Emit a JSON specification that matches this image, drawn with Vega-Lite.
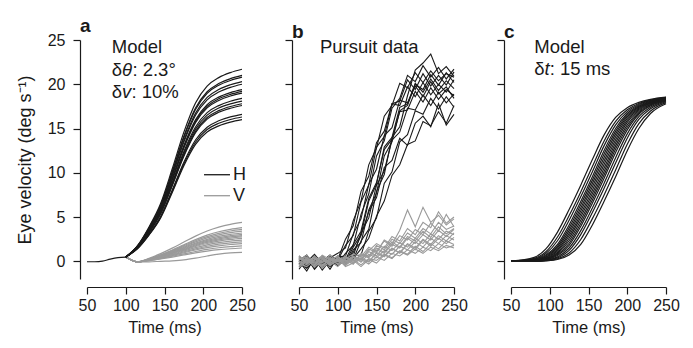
{
"$schema":"https://vega.github.io/schema/vega-lite/v6.json",
"background":"white",
"padding":{"left":16,"top":17,"right":5,"bottom":5},
"bounds":"flush",
"spacing":57,
"config":{
 "view":{"stroke":null},
 "font":"Liberation Sans",
 "axis":{"grid":false,"domainColor":"#1a1a1a","tickColor":"#1a1a1a","labelColor":"#1a1a1a","titleColor":"#1a1a1a","labelFont":"Liberation Sans","titleFont":"Liberation Sans","labelFontSize":16,"titleFontSize":16.5,"titleFontWeight":"normal","tickSize":7,"domainWidth":1.2,"tickWidth":1.2,"labelFlush":false,"labelOverlap":false},
 "axisX":{"labelPadding":3,"titlePadding":6,"offset":8},
 "axisY":{"labelPadding":8,"titlePadding":13,"offset":7},
 "title":{"fontSize":19,"fontWeight":"bold","anchor":"start","frame":"group","dx":-7,"dy":8,"offset":0,"baseline":"alphabetic","color":"#1a1a1a","font":"Liberation Sans"}
},
"datasets":{
"a":[
{"k":"H","s":0,"t":50,"v":-0.05},{"k":"H","s":0,"t":60,"v":-0.05},{"k":"H","s":0,"t":70,"v":0.02},{"k":"H","s":0,"t":80,"v":0.25},{"k":"H","s":0,"t":90,"v":0.42},{"k":"H","s":0,"t":100,"v":0.48},
{"k":"H","s":1,"t":100,"v":0.48},{"k":"H","s":1,"t":115,"v":1.75},{"k":"H","s":1,"t":130,"v":3.88},{"k":"H","s":1,"t":145,"v":6.53},{"k":"H","s":1,"t":160,"v":10.45},{"k":"H","s":1,"t":175,"v":14.59},{"k":"H","s":1,"t":190,"v":17.88},{"k":"H","s":1,"t":205,"v":19.79},{"k":"H","s":1,"t":220,"v":20.75},{"k":"H","s":1,"t":235,"v":21.32},{"k":"H","s":1,"t":250,"v":21.7},
{"k":"H","s":2,"t":100,"v":0.48},{"k":"H","s":2,"t":115,"v":1.71},{"k":"H","s":2,"t":130,"v":3.76},{"k":"H","s":2,"t":145,"v":6.33},{"k":"H","s":2,"t":160,"v":10.12},{"k":"H","s":2,"t":175,"v":14.13},{"k":"H","s":2,"t":190,"v":17.31},{"k":"H","s":2,"t":205,"v":19.15},{"k":"H","s":2,"t":220,"v":20.08},{"k":"H","s":2,"t":235,"v":20.63},{"k":"H","s":2,"t":250,"v":21.0},
{"k":"H","s":3,"t":100,"v":0.48},{"k":"H","s":3,"t":115,"v":1.70},{"k":"H","s":3,"t":130,"v":3.73},{"k":"H","s":3,"t":145,"v":6.27},{"k":"H","s":3,"t":160,"v":10.03},{"k":"H","s":3,"t":175,"v":13.99},{"k":"H","s":3,"t":190,"v":17.14},{"k":"H","s":3,"t":205,"v":18.97},{"k":"H","s":3,"t":220,"v":19.89},{"k":"H","s":3,"t":235,"v":20.43},{"k":"H","s":3,"t":250,"v":20.8},
{"k":"H","s":4,"t":100,"v":0.48},{"k":"H","s":4,"t":115,"v":1.67},{"k":"H","s":4,"t":130,"v":3.65},{"k":"H","s":4,"t":145,"v":6.13},{"k":"H","s":4,"t":160,"v":9.80},{"k":"H","s":4,"t":175,"v":13.66},{"k":"H","s":4,"t":190,"v":16.73},{"k":"H","s":4,"t":205,"v":18.52},{"k":"H","s":4,"t":220,"v":19.41},{"k":"H","s":4,"t":235,"v":19.94},{"k":"H","s":4,"t":250,"v":20.3},
{"k":"H","s":5,"t":100,"v":0.48},{"k":"H","s":5,"t":115,"v":1.65},{"k":"H","s":5,"t":130,"v":3.60},{"k":"H","s":5,"t":145,"v":6.04},{"k":"H","s":5,"t":160,"v":9.65},{"k":"H","s":5,"t":175,"v":13.46},{"k":"H","s":5,"t":190,"v":16.49},{"k":"H","s":5,"t":205,"v":18.24},{"k":"H","s":5,"t":220,"v":19.12},{"k":"H","s":5,"t":235,"v":19.65},{"k":"H","s":5,"t":250,"v":20.0},
{"k":"H","s":6,"t":100,"v":0.48},{"k":"H","s":6,"t":115,"v":1.62},{"k":"H","s":6,"t":130,"v":3.51},{"k":"H","s":6,"t":145,"v":5.87},{"k":"H","s":6,"t":160,"v":9.37},{"k":"H","s":6,"t":175,"v":13.06},{"k":"H","s":6,"t":190,"v":15.99},{"k":"H","s":6,"t":205,"v":17.70},{"k":"H","s":6,"t":220,"v":18.55},{"k":"H","s":6,"t":235,"v":19.06},{"k":"H","s":6,"t":250,"v":19.4},
{"k":"H","s":7,"t":100,"v":0.48},{"k":"H","s":7,"t":115,"v":1.60},{"k":"H","s":7,"t":130,"v":3.48},{"k":"H","s":7,"t":145,"v":5.82},{"k":"H","s":7,"t":160,"v":9.28},{"k":"H","s":7,"t":175,"v":12.93},{"k":"H","s":7,"t":190,"v":15.83},{"k":"H","s":7,"t":205,"v":17.52},{"k":"H","s":7,"t":220,"v":18.36},{"k":"H","s":7,"t":235,"v":18.86},{"k":"H","s":7,"t":250,"v":19.2},
{"k":"H","s":8,"t":100,"v":0.48},{"k":"H","s":8,"t":115,"v":1.59},{"k":"H","s":8,"t":130,"v":3.44},{"k":"H","s":8,"t":145,"v":5.76},{"k":"H","s":8,"t":160,"v":9.18},{"k":"H","s":8,"t":175,"v":12.80},{"k":"H","s":8,"t":190,"v":15.67},{"k":"H","s":8,"t":205,"v":17.33},{"k":"H","s":8,"t":220,"v":18.17},{"k":"H","s":8,"t":235,"v":18.67},{"k":"H","s":8,"t":250,"v":19.0},
{"k":"H","s":9,"t":100,"v":0.48},{"k":"H","s":9,"t":115,"v":1.56},{"k":"H","s":9,"t":130,"v":3.35},{"k":"H","s":9,"t":145,"v":5.59},{"k":"H","s":9,"t":160,"v":8.90},{"k":"H","s":9,"t":175,"v":12.40},{"k":"H","s":9,"t":190,"v":15.17},{"k":"H","s":9,"t":205,"v":16.79},{"k":"H","s":9,"t":220,"v":17.59},{"k":"H","s":9,"t":235,"v":18.08},{"k":"H","s":9,"t":250,"v":18.4},
{"k":"H","s":10,"t":100,"v":0.48},{"k":"H","s":10,"t":115,"v":1.54},{"k":"H","s":10,"t":130,"v":3.30},{"k":"H","s":10,"t":145,"v":5.50},{"k":"H","s":10,"t":160,"v":8.76},{"k":"H","s":10,"t":175,"v":12.20},{"k":"H","s":10,"t":190,"v":14.93},{"k":"H","s":10,"t":205,"v":16.51},{"k":"H","s":10,"t":220,"v":17.31},{"k":"H","s":10,"t":235,"v":17.78},{"k":"H","s":10,"t":250,"v":18.1},
{"k":"H","s":11,"t":100,"v":0.48},{"k":"H","s":11,"t":115,"v":1.52},{"k":"H","s":11,"t":130,"v":3.25},{"k":"H","s":11,"t":145,"v":5.42},{"k":"H","s":11,"t":160,"v":8.62},{"k":"H","s":11,"t":175,"v":12.00},{"k":"H","s":11,"t":190,"v":14.68},{"k":"H","s":11,"t":205,"v":16.24},{"k":"H","s":11,"t":220,"v":17.02},{"k":"H","s":11,"t":235,"v":17.49},{"k":"H","s":11,"t":250,"v":17.8},
{"k":"H","s":12,"t":100,"v":0.48},{"k":"H","s":12,"t":115,"v":1.51},{"k":"H","s":12,"t":130,"v":3.22},{"k":"H","s":12,"t":145,"v":5.36},{"k":"H","s":12,"t":160,"v":8.53},{"k":"H","s":12,"t":175,"v":11.86},{"k":"H","s":12,"t":190,"v":14.52},{"k":"H","s":12,"t":205,"v":16.06},{"k":"H","s":12,"t":220,"v":16.83},{"k":"H","s":12,"t":235,"v":17.29},{"k":"H","s":12,"t":250,"v":17.6},
{"k":"H","s":13,"t":100,"v":0.48},{"k":"H","s":13,"t":115,"v":1.45},{"k":"H","s":13,"t":130,"v":3.06},{"k":"H","s":13,"t":145,"v":5.07},{"k":"H","s":13,"t":160,"v":8.06},{"k":"H","s":13,"t":175,"v":11.20},{"k":"H","s":13,"t":190,"v":13.70},{"k":"H","s":13,"t":205,"v":15.15},{"k":"H","s":13,"t":220,"v":15.87},{"k":"H","s":13,"t":235,"v":16.31},{"k":"H","s":13,"t":250,"v":16.6},
{"k":"H","s":14,"t":100,"v":0.48},{"k":"H","s":14,"t":115,"v":1.43},{"k":"H","s":14,"t":130,"v":3.01},{"k":"H","s":14,"t":145,"v":4.99},{"k":"H","s":14,"t":160,"v":7.92},{"k":"H","s":14,"t":175,"v":11.00},{"k":"H","s":14,"t":190,"v":13.45},{"k":"H","s":14,"t":205,"v":14.88},{"k":"H","s":14,"t":220,"v":15.59},{"k":"H","s":14,"t":235,"v":16.02},{"k":"H","s":14,"t":250,"v":16.3},
{"k":"H","s":15,"t":100,"v":0.48},{"k":"H","s":15,"t":115,"v":1.41},{"k":"H","s":15,"t":130,"v":2.96},{"k":"H","s":15,"t":145,"v":4.90},{"k":"H","s":15,"t":160,"v":7.77},{"k":"H","s":15,"t":175,"v":10.80},{"k":"H","s":15,"t":190,"v":13.21},{"k":"H","s":15,"t":205,"v":14.60},{"k":"H","s":15,"t":220,"v":15.30},{"k":"H","s":15,"t":235,"v":15.72},{"k":"H","s":15,"t":250,"v":16.0},
{"k":"V","s":1,"t":100,"v":0.48},{"k":"V","s":1,"t":108,"v":0.12},{"k":"V","s":1,"t":115,"v":-0.07},{"k":"V","s":1,"t":130,"v":0.33},{"k":"V","s":1,"t":145,"v":0.87},{"k":"V","s":1,"t":160,"v":1.49},{"k":"V","s":1,"t":175,"v":2.17},{"k":"V","s":1,"t":190,"v":2.84},{"k":"V","s":1,"t":205,"v":3.42},{"k":"V","s":1,"t":220,"v":3.86},{"k":"V","s":1,"t":235,"v":4.18},{"k":"V","s":1,"t":250,"v":4.4},
{"k":"V","s":2,"t":100,"v":0.48},{"k":"V","s":2,"t":108,"v":0.12},{"k":"V","s":2,"t":115,"v":-0.07},{"k":"V","s":2,"t":130,"v":0.28},{"k":"V","s":2,"t":145,"v":0.74},{"k":"V","s":2,"t":160,"v":1.28},{"k":"V","s":2,"t":175,"v":1.87},{"k":"V","s":2,"t":190,"v":2.45},{"k":"V","s":2,"t":205,"v":2.95},{"k":"V","s":2,"t":220,"v":3.34},{"k":"V","s":2,"t":235,"v":3.61},{"k":"V","s":2,"t":250,"v":3.8},
{"k":"V","s":3,"t":100,"v":0.48},{"k":"V","s":3,"t":108,"v":0.12},{"k":"V","s":3,"t":115,"v":-0.07},{"k":"V","s":3,"t":130,"v":0.26},{"k":"V","s":3,"t":145,"v":0.70},{"k":"V","s":3,"t":160,"v":1.21},{"k":"V","s":3,"t":175,"v":1.77},{"k":"V","s":3,"t":190,"v":2.32},{"k":"V","s":3,"t":205,"v":2.79},{"k":"V","s":3,"t":220,"v":3.16},{"k":"V","s":3,"t":235,"v":3.42},{"k":"V","s":3,"t":250,"v":3.6},
{"k":"V","s":4,"t":100,"v":0.48},{"k":"V","s":4,"t":108,"v":0.12},{"k":"V","s":4,"t":115,"v":-0.07},{"k":"V","s":4,"t":130,"v":0.24},{"k":"V","s":4,"t":145,"v":0.66},{"k":"V","s":4,"t":160,"v":1.14},{"k":"V","s":4,"t":175,"v":1.67},{"k":"V","s":4,"t":190,"v":2.19},{"k":"V","s":4,"t":205,"v":2.64},{"k":"V","s":4,"t":220,"v":2.98},{"k":"V","s":4,"t":235,"v":3.23},{"k":"V","s":4,"t":250,"v":3.4},
{"k":"V","s":5,"t":100,"v":0.48},{"k":"V","s":5,"t":108,"v":0.12},{"k":"V","s":5,"t":115,"v":-0.07},{"k":"V","s":5,"t":130,"v":0.22},{"k":"V","s":5,"t":145,"v":0.62},{"k":"V","s":5,"t":160,"v":1.07},{"k":"V","s":5,"t":175,"v":1.57},{"k":"V","s":5,"t":190,"v":2.06},{"k":"V","s":5,"t":205,"v":2.48},{"k":"V","s":5,"t":220,"v":2.81},{"k":"V","s":5,"t":235,"v":3.04},{"k":"V","s":5,"t":250,"v":3.2},
{"k":"V","s":6,"t":100,"v":0.48},{"k":"V","s":6,"t":108,"v":0.12},{"k":"V","s":6,"t":115,"v":-0.07},{"k":"V","s":6,"t":130,"v":0.21},{"k":"V","s":6,"t":145,"v":0.59},{"k":"V","s":6,"t":160,"v":1.02},{"k":"V","s":6,"t":175,"v":1.49},{"k":"V","s":6,"t":190,"v":1.96},{"k":"V","s":6,"t":205,"v":2.36},{"k":"V","s":6,"t":220,"v":2.68},{"k":"V","s":6,"t":235,"v":2.89},{"k":"V","s":6,"t":250,"v":3.05},
{"k":"V","s":7,"t":100,"v":0.48},{"k":"V","s":7,"t":108,"v":0.12},{"k":"V","s":7,"t":115,"v":-0.07},{"k":"V","s":7,"t":130,"v":0.20},{"k":"V","s":7,"t":145,"v":0.55},{"k":"V","s":7,"t":160,"v":0.97},{"k":"V","s":7,"t":175,"v":1.42},{"k":"V","s":7,"t":190,"v":1.86},{"k":"V","s":7,"t":205,"v":2.25},{"k":"V","s":7,"t":220,"v":2.54},{"k":"V","s":7,"t":235,"v":2.75},{"k":"V","s":7,"t":250,"v":2.9},
{"k":"V","s":8,"t":100,"v":0.48},{"k":"V","s":8,"t":108,"v":0.12},{"k":"V","s":8,"t":115,"v":-0.07},{"k":"V","s":8,"t":130,"v":0.18},{"k":"V","s":8,"t":145,"v":0.52},{"k":"V","s":8,"t":160,"v":0.92},{"k":"V","s":8,"t":175,"v":1.34},{"k":"V","s":8,"t":190,"v":1.76},{"k":"V","s":8,"t":205,"v":2.13},{"k":"V","s":8,"t":220,"v":2.41},{"k":"V","s":8,"t":235,"v":2.61},{"k":"V","s":8,"t":250,"v":2.75},
{"k":"V","s":9,"t":100,"v":0.48},{"k":"V","s":9,"t":108,"v":0.12},{"k":"V","s":9,"t":115,"v":-0.07},{"k":"V","s":9,"t":130,"v":0.17},{"k":"V","s":9,"t":145,"v":0.49},{"k":"V","s":9,"t":160,"v":0.86},{"k":"V","s":9,"t":175,"v":1.27},{"k":"V","s":9,"t":190,"v":1.67},{"k":"V","s":9,"t":205,"v":2.01},{"k":"V","s":9,"t":220,"v":2.28},{"k":"V","s":9,"t":235,"v":2.47},{"k":"V","s":9,"t":250,"v":2.6},
{"k":"V","s":10,"t":100,"v":0.48},{"k":"V","s":10,"t":108,"v":0.12},{"k":"V","s":10,"t":115,"v":-0.07},{"k":"V","s":10,"t":130,"v":0.15},{"k":"V","s":10,"t":145,"v":0.45},{"k":"V","s":10,"t":160,"v":0.79},{"k":"V","s":10,"t":175,"v":1.17},{"k":"V","s":10,"t":190,"v":1.54},{"k":"V","s":10,"t":205,"v":1.86},{"k":"V","s":10,"t":220,"v":2.10},{"k":"V","s":10,"t":235,"v":2.28},{"k":"V","s":10,"t":250,"v":2.4},
{"k":"V","s":11,"t":100,"v":0.48},{"k":"V","s":11,"t":108,"v":0.12},{"k":"V","s":11,"t":115,"v":-0.07},{"k":"V","s":11,"t":130,"v":0.13},{"k":"V","s":11,"t":145,"v":0.41},{"k":"V","s":11,"t":160,"v":0.72},{"k":"V","s":11,"t":175,"v":1.07},{"k":"V","s":11,"t":190,"v":1.41},{"k":"V","s":11,"t":205,"v":1.70},{"k":"V","s":11,"t":220,"v":1.93},{"k":"V","s":11,"t":235,"v":2.09},{"k":"V","s":11,"t":250,"v":2.2},
{"k":"V","s":12,"t":100,"v":0.48},{"k":"V","s":12,"t":108,"v":0.12},{"k":"V","s":12,"t":115,"v":-0.07},{"k":"V","s":12,"t":130,"v":0.12},{"k":"V","s":12,"t":145,"v":0.36},{"k":"V","s":12,"t":160,"v":0.65},{"k":"V","s":12,"t":175,"v":0.97},{"k":"V","s":12,"t":190,"v":1.28},{"k":"V","s":12,"t":205,"v":1.54},{"k":"V","s":12,"t":220,"v":1.75},{"k":"V","s":12,"t":235,"v":1.90},{"k":"V","s":12,"t":250,"v":2.0},
{"k":"V","s":13,"t":100,"v":0.48},{"k":"V","s":13,"t":108,"v":0.12},{"k":"V","s":13,"t":115,"v":-0.07},{"k":"V","s":13,"t":130,"v":0.09},{"k":"V","s":13,"t":145,"v":0.31},{"k":"V","s":13,"t":160,"v":0.57},{"k":"V","s":13,"t":175,"v":0.84},{"k":"V","s":13,"t":190,"v":1.11},{"k":"V","s":13,"t":205,"v":1.35},{"k":"V","s":13,"t":220,"v":1.53},{"k":"V","s":13,"t":235,"v":1.66},{"k":"V","s":13,"t":250,"v":1.75},
{"k":"V","s":14,"t":100,"v":0.48},{"k":"V","s":14,"t":108,"v":0.12},{"k":"V","s":14,"t":115,"v":-0.07},{"k":"V","s":14,"t":130,"v":0.07},{"k":"V","s":14,"t":145,"v":0.26},{"k":"V","s":14,"t":160,"v":0.48},{"k":"V","s":14,"t":175,"v":0.72},{"k":"V","s":14,"t":190,"v":0.95},{"k":"V","s":14,"t":205,"v":1.15},{"k":"V","s":14,"t":220,"v":1.31},{"k":"V","s":14,"t":235,"v":1.42},{"k":"V","s":14,"t":250,"v":1.5},
{"k":"V","s":15,"t":100,"v":0.48},{"k":"V","s":15,"t":108,"v":0.12},{"k":"V","s":15,"t":115,"v":-0.07},{"k":"V","s":15,"t":130,"v":-0.06},{"k":"V","s":15,"t":145,"v":0.0},{"k":"V","s":15,"t":160,"v":0.05},{"k":"V","s":15,"t":175,"v":0.15},{"k":"V","s":15,"t":190,"v":0.35},{"k":"V","s":15,"t":205,"v":0.6},{"k":"V","s":15,"t":220,"v":0.82},{"k":"V","s":15,"t":235,"v":0.95},{"k":"V","s":15,"t":250,"v":1.0}
],
"b":[
{"k":"H","s":1,"t":50,"v":0.3},{"k":"H","s":1,"t":60,"v":-0.4},{"k":"H","s":1,"t":70,"v":0.5},{"k":"H","s":1,"t":80,"v":-0.2},{"k":"H","s":1,"t":90,"v":0.4},{"k":"H","s":1,"t":100,"v":0.9},{"k":"H","s":1,"t":110,"v":1.5},{"k":"H","s":1,"t":120,"v":4.6},{"k":"H","s":1,"t":130,"v":6.8},{"k":"H","s":1,"t":140,"v":10.9},{"k":"H","s":1,"t":150,"v":12.8},{"k":"H","s":1,"t":160,"v":16.4},{"k":"H","s":1,"t":170,"v":17.6},{"k":"H","s":1,"t":180,"v":20.1},{"k":"H","s":1,"t":190,"v":19.6},{"k":"H","s":1,"t":200,"v":21.3},{"k":"H","s":1,"t":210,"v":20.2},{"k":"H","s":1,"t":220,"v":21.5},{"k":"H","s":1,"t":230,"v":20.4},{"k":"H","s":1,"t":240,"v":21.2},{"k":"H","s":1,"t":250,"v":20.8},
{"k":"H","s":2,"t":50,"v":-0.6},{"k":"H","s":2,"t":60,"v":0.2},{"k":"H","s":2,"t":70,"v":-0.3},{"k":"H","s":2,"t":80,"v":0.6},{"k":"H","s":2,"t":90,"v":-0.4},{"k":"H","s":2,"t":100,"v":0.1},{"k":"H","s":2,"t":110,"v":1.8},{"k":"H","s":2,"t":120,"v":2.9},{"k":"H","s":2,"t":130,"v":6.7},{"k":"H","s":2,"t":140,"v":8.6},{"k":"H","s":2,"t":150,"v":12.9},{"k":"H","s":2,"t":160,"v":14.1},{"k":"H","s":2,"t":170,"v":17.8},{"k":"H","s":2,"t":180,"v":18.1},{"k":"H","s":2,"t":190,"v":20.5},{"k":"H","s":2,"t":200,"v":19.4},{"k":"H","s":2,"t":210,"v":21.2},{"k":"H","s":2,"t":220,"v":19.8},{"k":"H","s":2,"t":230,"v":21.0},{"k":"H","s":2,"t":240,"v":19.9},{"k":"H","s":2,"t":250,"v":21.4},
{"k":"H","s":3,"t":50,"v":0.1},{"k":"H","s":3,"t":60,"v":0.7},{"k":"H","s":3,"t":70,"v":-0.5},{"k":"H","s":3,"t":80,"v":0.3},{"k":"H","s":3,"t":90,"v":-0.9},{"k":"H","s":3,"t":100,"v":0.5},{"k":"H","s":3,"t":110,"v":0.6},{"k":"H","s":3,"t":120,"v":3.1},{"k":"H","s":3,"t":130,"v":4.8},{"k":"H","s":3,"t":140,"v":8.7},{"k":"H","s":3,"t":150,"v":10.4},{"k":"H","s":3,"t":160,"v":14.2},{"k":"H","s":3,"t":170,"v":15.1},{"k":"H","s":3,"t":180,"v":18.2},{"k":"H","s":3,"t":190,"v":17.9},{"k":"H","s":3,"t":200,"v":19.8},{"k":"H","s":3,"t":210,"v":18.6},{"k":"H","s":3,"t":220,"v":20.3},{"k":"H","s":3,"t":230,"v":18.9},{"k":"H","s":3,"t":240,"v":19.7},{"k":"H","s":3,"t":250,"v":18.4},
{"k":"H","s":4,"t":50,"v":-0.2},{"k":"H","s":4,"t":60,"v":-0.8},{"k":"H","s":4,"t":70,"v":0.1},{"k":"H","s":4,"t":80,"v":-0.6},{"k":"H","s":4,"t":90,"v":0.2},{"k":"H","s":4,"t":100,"v":-0.3},{"k":"H","s":4,"t":110,"v":0.9},{"k":"H","s":4,"t":120,"v":1.8},{"k":"H","s":4,"t":130,"v":5.3},{"k":"H","s":4,"t":140,"v":7.6},{"k":"H","s":4,"t":150,"v":11.9},{"k":"H","s":4,"t":160,"v":13.6},{"k":"H","s":4,"t":170,"v":17.3},{"k":"H","s":4,"t":180,"v":18.4},{"k":"H","s":4,"t":190,"v":21.0},{"k":"H","s":4,"t":200,"v":20.3},{"k":"H","s":4,"t":210,"v":22.1},{"k":"H","s":4,"t":220,"v":20.8},{"k":"H","s":4,"t":230,"v":21.9},{"k":"H","s":4,"t":240,"v":20.6},{"k":"H","s":4,"t":250,"v":21.7},
{"k":"H","s":5,"t":50,"v":0.5},{"k":"H","s":5,"t":60,"v":-0.1},{"k":"H","s":5,"t":70,"v":0.8},{"k":"H","s":5,"t":80,"v":-0.3},{"k":"H","s":5,"t":90,"v":0.3},{"k":"H","s":5,"t":100,"v":-0.5},{"k":"H","s":5,"t":110,"v":0.2},{"k":"H","s":5,"t":120,"v":1.9},{"k":"H","s":5,"t":130,"v":3.4},{"k":"H","s":5,"t":140,"v":7.1},{"k":"H","s":5,"t":150,"v":8.9},{"k":"H","s":5,"t":160,"v":12.6},{"k":"H","s":5,"t":170,"v":13.8},{"k":"H","s":5,"t":180,"v":16.9},{"k":"H","s":5,"t":190,"v":17.1},{"k":"H","s":5,"t":200,"v":19.2},{"k":"H","s":5,"t":210,"v":18.0},{"k":"H","s":5,"t":220,"v":19.6},{"k":"H","s":5,"t":230,"v":18.3},{"k":"H","s":5,"t":240,"v":19.4},{"k":"H","s":5,"t":250,"v":18.7},
{"k":"H","s":6,"t":50,"v":-0.9},{"k":"H","s":6,"t":60,"v":0.3},{"k":"H","s":6,"t":70,"v":-0.2},{"k":"H","s":6,"t":80,"v":0.5},{"k":"H","s":6,"t":90,"v":-0.6},{"k":"H","s":6,"t":100,"v":0.2},{"k":"H","s":6,"t":110,"v":-0.1},{"k":"H","s":6,"t":120,"v":1.6},{"k":"H","s":6,"t":130,"v":3.0},{"k":"H","s":6,"t":140,"v":6.8},{"k":"H","s":6,"t":150,"v":8.7},{"k":"H","s":6,"t":160,"v":12.9},{"k":"H","s":6,"t":170,"v":14.0},{"k":"H","s":6,"t":180,"v":17.4},{"k":"H","s":6,"t":190,"v":17.8},{"k":"H","s":6,"t":200,"v":20.1},{"k":"H","s":6,"t":210,"v":19.1},{"k":"H","s":6,"t":220,"v":20.6},{"k":"H","s":6,"t":230,"v":19.3},{"k":"H","s":6,"t":240,"v":20.4},{"k":"H","s":6,"t":250,"v":19.5},
{"k":"H","s":7,"t":50,"v":0.4},{"k":"H","s":7,"t":60,"v":-0.7},{"k":"H","s":7,"t":70,"v":0.6},{"k":"H","s":7,"t":80,"v":0.0},{"k":"H","s":7,"t":90,"v":0.7},{"k":"H","s":7,"t":100,"v":-0.2},{"k":"H","s":7,"t":110,"v":0.5},{"k":"H","s":7,"t":120,"v":0.6},{"k":"H","s":7,"t":130,"v":3.2},{"k":"H","s":7,"t":140,"v":4.9},{"k":"H","s":7,"t":150,"v":8.6},{"k":"H","s":7,"t":160,"v":10.2},{"k":"H","s":7,"t":170,"v":13.7},{"k":"H","s":7,"t":180,"v":14.6},{"k":"H","s":7,"t":190,"v":17.3},{"k":"H","s":7,"t":200,"v":17.1},{"k":"H","s":7,"t":210,"v":18.8},{"k":"H","s":7,"t":220,"v":17.6},{"k":"H","s":7,"t":230,"v":19.1},{"k":"H","s":7,"t":240,"v":17.9},{"k":"H","s":7,"t":250,"v":18.9},
{"k":"H","s":8,"t":50,"v":-0.3},{"k":"H","s":8,"t":60,"v":0.6},{"k":"H","s":8,"t":70,"v":-0.8},{"k":"H","s":8,"t":80,"v":0.2},{"k":"H","s":8,"t":90,"v":-0.1},{"k":"H","s":8,"t":100,"v":0.4},{"k":"H","s":8,"t":110,"v":-0.4},{"k":"H","s":8,"t":120,"v":1.3},{"k":"H","s":8,"t":130,"v":2.1},{"k":"H","s":8,"t":140,"v":5.8},{"k":"H","s":8,"t":150,"v":7.7},{"k":"H","s":8,"t":160,"v":11.9},{"k":"H","s":8,"t":170,"v":13.5},{"k":"H","s":8,"t":180,"v":17.0},{"k":"H","s":8,"t":190,"v":17.6},{"k":"H","s":8,"t":200,"v":20.0},{"k":"H","s":8,"t":210,"v":19.4},{"k":"H","s":8,"t":220,"v":21.1},{"k":"H","s":8,"t":230,"v":19.9},{"k":"H","s":8,"t":240,"v":21.3},{"k":"H","s":8,"t":250,"v":20.2},
{"k":"H","s":9,"t":50,"v":0.2},{"k":"H","s":9,"t":60,"v":-0.5},{"k":"H","s":9,"t":70,"v":0.3},{"k":"H","s":9,"t":80,"v":-1.0},{"k":"H","s":9,"t":90,"v":0.1},{"k":"H","s":9,"t":100,"v":-0.4},{"k":"H","s":9,"t":110,"v":0.3},{"k":"H","s":9,"t":120,"v":0.2},{"k":"H","s":9,"t":130,"v":2.3},{"k":"H","s":9,"t":140,"v":3.6},{"k":"H","s":9,"t":150,"v":7.9},{"k":"H","s":9,"t":160,"v":9.8},{"k":"H","s":9,"t":170,"v":14.0},{"k":"H","s":9,"t":180,"v":15.2},{"k":"H","s":9,"t":190,"v":18.7},{"k":"H","s":9,"t":200,"v":21.6},{"k":"H","s":9,"t":210,"v":22.4},{"k":"H","s":9,"t":220,"v":23.4},{"k":"H","s":9,"t":230,"v":21.2},{"k":"H","s":9,"t":240,"v":22.0},{"k":"H","s":9,"t":250,"v":20.9},
{"k":"H","s":10,"t":50,"v":-0.4},{"k":"H","s":10,"t":60,"v":0.1},{"k":"H","s":10,"t":70,"v":-0.6},{"k":"H","s":10,"t":80,"v":0.6},{"k":"H","s":10,"t":90,"v":-0.3},{"k":"H","s":10,"t":100,"v":0.3},{"k":"H","s":10,"t":110,"v":-0.2},{"k":"H","s":10,"t":120,"v":0.6},{"k":"H","s":10,"t":130,"v":0.7},{"k":"H","s":10,"t":140,"v":3.4},{"k":"H","s":10,"t":150,"v":4.9},{"k":"H","s":10,"t":160,"v":8.8},{"k":"H","s":10,"t":170,"v":10.1},{"k":"H","s":10,"t":180,"v":13.5},{"k":"H","s":10,"t":190,"v":14.3},{"k":"H","s":10,"t":200,"v":17.0},{"k":"H","s":10,"t":210,"v":16.6},{"k":"H","s":10,"t":220,"v":18.4},{"k":"H","s":10,"t":230,"v":17.2},{"k":"H","s":10,"t":240,"v":18.6},{"k":"H","s":10,"t":250,"v":17.4},
{"k":"H","s":11,"t":50,"v":0.6},{"k":"H","s":11,"t":60,"v":-0.3},{"k":"H","s":11,"t":70,"v":0.2},{"k":"H","s":11,"t":80,"v":-0.7},{"k":"H","s":11,"t":90,"v":0.5},{"k":"H","s":11,"t":100,"v":0.0},{"k":"H","s":11,"t":110,"v":0.4},{"k":"H","s":11,"t":120,"v":0.3},{"k":"H","s":11,"t":130,"v":1.4},{"k":"H","s":11,"t":140,"v":2.6},{"k":"H","s":11,"t":150,"v":5.1},{"k":"H","s":11,"t":160,"v":6.8},{"k":"H","s":11,"t":170,"v":9.7},{"k":"H","s":11,"t":180,"v":10.9},{"k":"H","s":11,"t":190,"v":13.2},{"k":"H","s":11,"t":200,"v":13.6},{"k":"H","s":11,"t":210,"v":15.8},{"k":"H","s":11,"t":220,"v":15.3},{"k":"H","s":11,"t":230,"v":16.9},{"k":"H","s":11,"t":240,"v":15.6},{"k":"H","s":11,"t":250,"v":17.6},
{"k":"H","s":12,"t":50,"v":-0.1},{"k":"H","s":12,"t":60,"v":0.4},{"k":"H","s":12,"t":70,"v":-0.9},{"k":"H","s":12,"t":80,"v":0.1},{"k":"H","s":12,"t":90,"v":-0.5},{"k":"H","s":12,"t":100,"v":0.6},{"k":"H","s":12,"t":110,"v":0.1},{"k":"H","s":12,"t":120,"v":1.0},{"k":"H","s":12,"t":130,"v":2.9},{"k":"H","s":12,"t":140,"v":5.6},{"k":"H","s":12,"t":150,"v":7.2},{"k":"H","s":12,"t":160,"v":10.6},{"k":"H","s":12,"t":170,"v":11.4},{"k":"H","s":12,"t":180,"v":13.9},{"k":"H","s":12,"t":190,"v":13.1},{"k":"H","s":12,"t":200,"v":15.6},{"k":"H","s":12,"t":210,"v":16.4},{"k":"H","s":12,"t":220,"v":15.2},{"k":"H","s":12,"t":230,"v":17.8},{"k":"H","s":12,"t":240,"v":15.4},{"k":"H","s":12,"t":250,"v":16.6},
{"k":"H","s":13,"t":50,"v":0.0},{"k":"H","s":13,"t":60,"v":-1.1},{"k":"H","s":13,"t":70,"v":0.4},{"k":"H","s":13,"t":80,"v":-0.4},{"k":"H","s":13,"t":90,"v":0.6},{"k":"H","s":13,"t":100,"v":0.2},{"k":"H","s":13,"t":110,"v":2.5},{"k":"H","s":13,"t":120,"v":4.0},{"k":"H","s":13,"t":130,"v":7.9},{"k":"H","s":13,"t":140,"v":9.6},{"k":"H","s":13,"t":150,"v":13.4},{"k":"H","s":13,"t":160,"v":14.7},{"k":"H","s":13,"t":170,"v":17.8},{"k":"H","s":13,"t":180,"v":17.6},{"k":"H","s":13,"t":190,"v":19.7},{"k":"H","s":13,"t":200,"v":18.6},{"k":"H","s":13,"t":210,"v":20.2},{"k":"H","s":13,"t":220,"v":18.8},{"k":"H","s":13,"t":230,"v":20.0},{"k":"H","s":13,"t":240,"v":19.1},{"k":"H","s":13,"t":250,"v":20.5},
{"k":"V","s":1,"t":50,"v":0.4},{"k":"V","s":1,"t":60,"v":-0.3},{"k":"V","s":1,"t":70,"v":0.1},{"k":"V","s":1,"t":80,"v":0.6},{"k":"V","s":1,"t":90,"v":-0.2},{"k":"V","s":1,"t":100,"v":0.3},{"k":"V","s":1,"t":110,"v":-0.5},{"k":"V","s":1,"t":120,"v":0.5},{"k":"V","s":1,"t":130,"v":0.1},{"k":"V","s":1,"t":140,"v":1.1},{"k":"V","s":1,"t":150,"v":0.6},{"k":"V","s":1,"t":160,"v":1.7},{"k":"V","s":1,"t":170,"v":1.2},{"k":"V","s":1,"t":180,"v":2.1},{"k":"V","s":1,"t":190,"v":1.6},{"k":"V","s":1,"t":200,"v":2.6},{"k":"V","s":1,"t":210,"v":2.0},{"k":"V","s":1,"t":220,"v":3.1},{"k":"V","s":1,"t":230,"v":2.5},{"k":"V","s":1,"t":240,"v":3.4},{"k":"V","s":1,"t":250,"v":3.0},
{"k":"V","s":2,"t":50,"v":-0.5},{"k":"V","s":2,"t":60,"v":0.2},{"k":"V","s":2,"t":70,"v":-0.6},{"k":"V","s":2,"t":80,"v":0.0},{"k":"V","s":2,"t":90,"v":0.5},{"k":"V","s":2,"t":100,"v":-0.4},{"k":"V","s":2,"t":110,"v":0.2},{"k":"V","s":2,"t":120,"v":-0.3},{"k":"V","s":2,"t":130,"v":0.9},{"k":"V","s":2,"t":140,"v":0.5},{"k":"V","s":2,"t":150,"v":1.8},{"k":"V","s":2,"t":160,"v":1.3},{"k":"V","s":2,"t":170,"v":2.5},{"k":"V","s":2,"t":180,"v":2.0},{"k":"V","s":2,"t":190,"v":3.2},{"k":"V","s":2,"t":200,"v":2.6},{"k":"V","s":2,"t":210,"v":3.7},{"k":"V","s":2,"t":220,"v":3.1},{"k":"V","s":2,"t":230,"v":4.4},{"k":"V","s":2,"t":240,"v":3.6},{"k":"V","s":2,"t":250,"v":4.0},
{"k":"V","s":3,"t":50,"v":0.1},{"k":"V","s":3,"t":60,"v":0.7},{"k":"V","s":3,"t":70,"v":-0.2},{"k":"V","s":3,"t":80,"v":-0.6},{"k":"V","s":3,"t":90,"v":0.3},{"k":"V","s":3,"t":100,"v":0.0},{"k":"V","s":3,"t":110,"v":0.6},{"k":"V","s":3,"t":120,"v":-0.2},{"k":"V","s":3,"t":130,"v":0.3},{"k":"V","s":3,"t":140,"v":-0.1},{"k":"V","s":3,"t":150,"v":1.0},{"k":"V","s":3,"t":160,"v":0.6},{"k":"V","s":3,"t":170,"v":1.5},{"k":"V","s":3,"t":180,"v":0.9},{"k":"V","s":3,"t":190,"v":1.9},{"k":"V","s":3,"t":200,"v":1.3},{"k":"V","s":3,"t":210,"v":2.4},{"k":"V","s":3,"t":220,"v":1.7},{"k":"V","s":3,"t":230,"v":2.6},{"k":"V","s":3,"t":240,"v":2.0},{"k":"V","s":3,"t":250,"v":2.7},
{"k":"V","s":4,"t":50,"v":0.3},{"k":"V","s":4,"t":60,"v":-0.1},{"k":"V","s":4,"t":70,"v":0.5},{"k":"V","s":4,"t":80,"v":-0.4},{"k":"V","s":4,"t":90,"v":0.1},{"k":"V","s":4,"t":100,"v":0.6},{"k":"V","s":4,"t":110,"v":-0.2},{"k":"V","s":4,"t":120,"v":0.4},{"k":"V","s":4,"t":130,"v":0.2},{"k":"V","s":4,"t":140,"v":1.4},{"k":"V","s":4,"t":150,"v":1.0},{"k":"V","s":4,"t":160,"v":2.4},{"k":"V","s":4,"t":170,"v":1.9},{"k":"V","s":4,"t":180,"v":3.5},{"k":"V","s":4,"t":190,"v":5.8},{"k":"V","s":4,"t":200,"v":3.9},{"k":"V","s":4,"t":210,"v":6.1},{"k":"V","s":4,"t":220,"v":4.4},{"k":"V","s":4,"t":230,"v":5.2},{"k":"V","s":4,"t":240,"v":4.1},{"k":"V","s":4,"t":250,"v":4.8},
{"k":"V","s":5,"t":50,"v":-0.2},{"k":"V","s":5,"t":60,"v":0.4},{"k":"V","s":5,"t":70,"v":-0.7},{"k":"V","s":5,"t":80,"v":0.2},{"k":"V","s":5,"t":90,"v":-0.4},{"k":"V","s":5,"t":100,"v":0.1},{"k":"V","s":5,"t":110,"v":-0.3},{"k":"V","s":5,"t":120,"v":0.2},{"k":"V","s":5,"t":130,"v":-0.4},{"k":"V","s":5,"t":140,"v":0.3},{"k":"V","s":5,"t":150,"v":0.1},{"k":"V","s":5,"t":160,"v":0.8},{"k":"V","s":5,"t":170,"v":0.4},{"k":"V","s":5,"t":180,"v":1.1},{"k":"V","s":5,"t":190,"v":0.7},{"k":"V","s":5,"t":200,"v":1.4},{"k":"V","s":5,"t":210,"v":0.9},{"k":"V","s":5,"t":220,"v":1.6},{"k":"V","s":5,"t":230,"v":1.2},{"k":"V","s":5,"t":240,"v":1.8},{"k":"V","s":5,"t":250,"v":1.5},
{"k":"V","s":6,"t":50,"v":0.6},{"k":"V","s":6,"t":60,"v":0.0},{"k":"V","s":6,"t":70,"v":0.3},{"k":"V","s":6,"t":80,"v":-0.2},{"k":"V","s":6,"t":90,"v":0.7},{"k":"V","s":6,"t":100,"v":-0.1},{"k":"V","s":6,"t":110,"v":0.4},{"k":"V","s":6,"t":120,"v":0.0},{"k":"V","s":6,"t":130,"v":0.7},{"k":"V","s":6,"t":140,"v":0.4},{"k":"V","s":6,"t":150,"v":1.3},{"k":"V","s":6,"t":160,"v":0.9},{"k":"V","s":6,"t":170,"v":1.9},{"k":"V","s":6,"t":180,"v":1.5},{"k":"V","s":6,"t":190,"v":2.6},{"k":"V","s":6,"t":200,"v":2.0},{"k":"V","s":6,"t":210,"v":3.0},{"k":"V","s":6,"t":220,"v":2.4},{"k":"V","s":6,"t":230,"v":3.5},{"k":"V","s":6,"t":240,"v":2.8},{"k":"V","s":6,"t":250,"v":3.6},
{"k":"V","s":7,"t":50,"v":-0.3},{"k":"V","s":7,"t":60,"v":-0.6},{"k":"V","s":7,"t":70,"v":0.2},{"k":"V","s":7,"t":80,"v":0.4},{"k":"V","s":7,"t":90,"v":-0.5},{"k":"V","s":7,"t":100,"v":0.2},{"k":"V","s":7,"t":110,"v":0.0},{"k":"V","s":7,"t":120,"v":0.6},{"k":"V","s":7,"t":130,"v":-0.1},{"k":"V","s":7,"t":140,"v":0.8},{"k":"V","s":7,"t":150,"v":0.4},{"k":"V","s":7,"t":160,"v":1.2},{"k":"V","s":7,"t":170,"v":0.8},{"k":"V","s":7,"t":180,"v":1.7},{"k":"V","s":7,"t":190,"v":1.3},{"k":"V","s":7,"t":200,"v":2.2},{"k":"V","s":7,"t":210,"v":1.6},{"k":"V","s":7,"t":220,"v":2.6},{"k":"V","s":7,"t":230,"v":2.0},{"k":"V","s":7,"t":240,"v":2.9},{"k":"V","s":7,"t":250,"v":2.4},
{"k":"V","s":8,"t":50,"v":0.2},{"k":"V","s":8,"t":60,"v":0.5},{"k":"V","s":8,"t":70,"v":-0.4},{"k":"V","s":8,"t":80,"v":0.3},{"k":"V","s":8,"t":90,"v":0.0},{"k":"V","s":8,"t":100,"v":-0.6},{"k":"V","s":8,"t":110,"v":0.3},{"k":"V","s":8,"t":120,"v":0.8},{"k":"V","s":8,"t":130,"v":0.5},{"k":"V","s":8,"t":140,"v":1.6},{"k":"V","s":8,"t":150,"v":1.1},{"k":"V","s":8,"t":160,"v":2.3},{"k":"V","s":8,"t":170,"v":1.7},{"k":"V","s":8,"t":180,"v":2.9},{"k":"V","s":8,"t":190,"v":2.4},{"k":"V","s":8,"t":200,"v":3.6},{"k":"V","s":8,"t":210,"v":3.0},{"k":"V","s":8,"t":220,"v":4.3},{"k":"V","s":8,"t":230,"v":3.4},{"k":"V","s":8,"t":240,"v":5.3},{"k":"V","s":8,"t":250,"v":3.9},
{"k":"V","s":9,"t":50,"v":0.0},{"k":"V","s":9,"t":60,"v":-0.4},{"k":"V","s":9,"t":70,"v":0.6},{"k":"V","s":9,"t":80,"v":-0.1},{"k":"V","s":9,"t":90,"v":0.2},{"k":"V","s":9,"t":100,"v":0.5},{"k":"V","s":9,"t":110,"v":-0.4},{"k":"V","s":9,"t":120,"v":0.1},{"k":"V","s":9,"t":130,"v":-0.6},{"k":"V","s":9,"t":140,"v":0.2},{"k":"V","s":9,"t":150,"v":-0.2},{"k":"V","s":9,"t":160,"v":0.7},{"k":"V","s":9,"t":170,"v":0.3},{"k":"V","s":9,"t":180,"v":1.2},{"k":"V","s":9,"t":190,"v":0.8},{"k":"V","s":9,"t":200,"v":1.7},{"k":"V","s":9,"t":210,"v":1.1},{"k":"V","s":9,"t":220,"v":2.0},{"k":"V","s":9,"t":230,"v":1.4},{"k":"V","s":9,"t":240,"v":2.3},{"k":"V","s":9,"t":250,"v":1.9},
{"k":"V","s":10,"t":50,"v":-0.7},{"k":"V","s":10,"t":60,"v":0.1},{"k":"V","s":10,"t":70,"v":-0.2},{"k":"V","s":10,"t":80,"v":0.5},{"k":"V","s":10,"t":90,"v":-0.3},{"k":"V","s":10,"t":100,"v":0.4},{"k":"V","s":10,"t":110,"v":0.1},{"k":"V","s":10,"t":120,"v":-0.3},{"k":"V","s":10,"t":130,"v":0.8},{"k":"V","s":10,"t":140,"v":0.6},{"k":"V","s":10,"t":150,"v":1.5},{"k":"V","s":10,"t":160,"v":1.0},{"k":"V","s":10,"t":170,"v":2.2},{"k":"V","s":10,"t":180,"v":1.6},{"k":"V","s":10,"t":190,"v":2.8},{"k":"V","s":10,"t":200,"v":2.3},{"k":"V","s":10,"t":210,"v":3.4},{"k":"V","s":10,"t":220,"v":2.7},{"k":"V","s":10,"t":230,"v":3.9},{"k":"V","s":10,"t":240,"v":3.1},{"k":"V","s":10,"t":250,"v":3.7},
{"k":"V","s":11,"t":50,"v":0.3},{"k":"V","s":11,"t":60,"v":0.2},{"k":"V","s":11,"t":70,"v":-0.5},{"k":"V","s":11,"t":80,"v":0.7},{"k":"V","s":11,"t":90,"v":0.2},{"k":"V","s":11,"t":100,"v":-0.3},{"k":"V","s":11,"t":110,"v":0.5},{"k":"V","s":11,"t":120,"v":0.2},{"k":"V","s":11,"t":130,"v":0.4},{"k":"V","s":11,"t":140,"v":0.0},{"k":"V","s":11,"t":150,"v":0.9},{"k":"V","s":11,"t":160,"v":0.5},{"k":"V","s":11,"t":170,"v":1.4},{"k":"V","s":11,"t":180,"v":1.0},{"k":"V","s":11,"t":190,"v":2.0},{"k":"V","s":11,"t":200,"v":1.5},{"k":"V","s":11,"t":210,"v":2.5},{"k":"V","s":11,"t":220,"v":1.9},{"k":"V","s":11,"t":230,"v":2.9},{"k":"V","s":11,"t":240,"v":2.3},{"k":"V","s":11,"t":250,"v":3.2},
{"k":"V","s":12,"t":50,"v":-0.4},{"k":"V","s":12,"t":60,"v":0.3},{"k":"V","s":12,"t":70,"v":0.0},{"k":"V","s":12,"t":80,"v":-0.5},{"k":"V","s":12,"t":90,"v":0.4},{"k":"V","s":12,"t":100,"v":0.0},{"k":"V","s":12,"t":110,"v":-0.1},{"k":"V","s":12,"t":120,"v":0.5},{"k":"V","s":12,"t":130,"v":0.3},{"k":"V","s":12,"t":140,"v":1.2},{"k":"V","s":12,"t":150,"v":2.0},{"k":"V","s":12,"t":160,"v":1.5},{"k":"V","s":12,"t":170,"v":2.8},{"k":"V","s":12,"t":180,"v":2.3},{"k":"V","s":12,"t":190,"v":3.7},{"k":"V","s":12,"t":200,"v":3.0},{"k":"V","s":12,"t":210,"v":4.4},{"k":"V","s":12,"t":220,"v":3.8},{"k":"V","s":12,"t":230,"v":5.6},{"k":"V","s":12,"t":240,"v":4.3},{"k":"V","s":12,"t":250,"v":5.0},
{"k":"V","s":13,"t":50,"v":0.5},{"k":"V","s":13,"t":60,"v":-0.2},{"k":"V","s":13,"t":70,"v":0.4},{"k":"V","s":13,"t":80,"v":-0.8},{"k":"V","s":13,"t":90,"v":0.0},{"k":"V","s":13,"t":100,"v":0.3},{"k":"V","s":13,"t":110,"v":-0.6},{"k":"V","s":13,"t":120,"v":-0.2},{"k":"V","s":13,"t":130,"v":0.2},{"k":"V","s":13,"t":140,"v":-0.3},{"k":"V","s":13,"t":150,"v":0.5},{"k":"V","s":13,"t":160,"v":0.1},{"k":"V","s":13,"t":170,"v":0.9},{"k":"V","s":13,"t":180,"v":0.6},{"k":"V","s":13,"t":190,"v":1.3},{"k":"V","s":13,"t":200,"v":0.9},{"k":"V","s":13,"t":210,"v":1.6},{"k":"V","s":13,"t":220,"v":1.2},{"k":"V","s":13,"t":230,"v":2.0},{"k":"V","s":13,"t":240,"v":1.5},{"k":"V","s":13,"t":250,"v":1.8}
],
"c":[
{"s":1,"t":50,"v":0.02},{"s":1,"t":80,"v":0.45},{"s":1,"t":95,"v":1.4},{"s":1,"t":110,"v":3.3},{"s":1,"t":125,"v":5.85},{"s":1,"t":140,"v":8.6},{"s":1,"t":155,"v":11.5},{"s":1,"t":170,"v":14.25},{"s":1,"t":185,"v":16.25},{"s":1,"t":200,"v":17.35},{"s":1,"t":215,"v":17.95},{"s":1,"t":230,"v":18.3},{"s":1,"t":250,"v":18.55},
{"s":2,"t":50,"v":0.01},{"s":2,"t":80,"v":0.33},{"s":2,"t":95,"v":1.08},{"s":2,"t":110,"v":2.74},{"s":2,"t":125,"v":5.17},{"s":2,"t":140,"v":7.84},{"s":2,"t":155,"v":10.7},{"s":2,"t":170,"v":13.57},{"s":2,"t":185,"v":15.81},{"s":2,"t":200,"v":17.11},{"s":2,"t":215,"v":17.83},{"s":2,"t":230,"v":18.22},{"s":2,"t":250,"v":18.51},
{"s":3,"t":50,"v":0.01},{"s":3,"t":80,"v":0.26},{"s":3,"t":95,"v":0.88},{"s":3,"t":110,"v":2.32},{"s":3,"t":125,"v":4.64},{"s":3,"t":140,"v":7.29},{"s":3,"t":155,"v":10.12},{"s":3,"t":170,"v":13.04},{"s":3,"t":185,"v":15.42},{"s":3,"t":200,"v":16.91},{"s":3,"t":215,"v":17.72},{"s":3,"t":230,"v":18.16},{"s":3,"t":250,"v":18.48},
{"s":4,"t":50,"v":0},{"s":4,"t":80,"v":0.2},{"s":4,"t":95,"v":0.7},{"s":4,"t":110,"v":1.9},{"s":4,"t":125,"v":4.1},{"s":4,"t":140,"v":6.75},{"s":4,"t":155,"v":9.55},{"s":4,"t":170,"v":12.5},{"s":4,"t":185,"v":15.0},{"s":4,"t":200,"v":16.7},{"s":4,"t":215,"v":17.6},{"s":4,"t":230,"v":18.1},{"s":4,"t":250,"v":18.45},
{"s":5,"t":50,"v":0},{"s":5,"t":80,"v":0.17},{"s":5,"t":95,"v":0.6},{"s":5,"t":110,"v":1.7},{"s":5,"t":125,"v":3.78},{"s":5,"t":140,"v":6.39},{"s":5,"t":155,"v":9.17},{"s":5,"t":170,"v":12.1},{"s":5,"t":185,"v":14.7},{"s":5,"t":200,"v":16.52},{"s":5,"t":215,"v":17.5},{"s":5,"t":230,"v":18.04},{"s":5,"t":250,"v":18.43},
{"s":6,"t":50,"v":0},{"s":6,"t":80,"v":0.14},{"s":6,"t":95,"v":0.5},{"s":6,"t":110,"v":1.5},{"s":6,"t":125,"v":3.46},{"s":6,"t":140,"v":6.03},{"s":6,"t":155,"v":8.79},{"s":6,"t":170,"v":11.7},{"s":6,"t":185,"v":14.4},{"s":6,"t":200,"v":16.34},{"s":6,"t":215,"v":17.4},{"s":6,"t":230,"v":17.98},{"s":6,"t":250,"v":18.41},
{"s":7,"t":50,"v":0},{"s":7,"t":80,"v":0.12},{"s":7,"t":95,"v":0.42},{"s":7,"t":110,"v":1.32},{"s":7,"t":125,"v":3.16},{"s":7,"t":140,"v":5.68},{"s":7,"t":155,"v":8.41},{"s":7,"t":170,"v":11.3},{"s":7,"t":185,"v":14.08},{"s":7,"t":200,"v":16.14},{"s":7,"t":215,"v":17.29},{"s":7,"t":230,"v":17.92},{"s":7,"t":250,"v":18.38},
{"s":8,"t":50,"v":0},{"s":8,"t":80,"v":0.1},{"s":8,"t":95,"v":0.36},{"s":8,"t":110,"v":1.16},{"s":8,"t":125,"v":2.88},{"s":8,"t":140,"v":5.34},{"s":8,"t":155,"v":8.03},{"s":8,"t":170,"v":10.9},{"s":8,"t":185,"v":13.74},{"s":8,"t":200,"v":15.92},{"s":8,"t":215,"v":17.17},{"s":8,"t":230,"v":17.86},{"s":8,"t":250,"v":18.34},
{"s":9,"t":50,"v":0},{"s":9,"t":80,"v":0.08},{"s":9,"t":95,"v":0.3},{"s":9,"t":110,"v":1.0},{"s":9,"t":125,"v":2.6},{"s":9,"t":140,"v":5.0},{"s":9,"t":155,"v":7.65},{"s":9,"t":170,"v":10.5},{"s":9,"t":185,"v":13.4},{"s":9,"t":200,"v":15.7},{"s":9,"t":215,"v":17.05},{"s":9,"t":230,"v":17.8},{"s":9,"t":250,"v":18.3},
{"s":10,"t":50,"v":0},{"s":10,"t":80,"v":0.07},{"s":10,"t":95,"v":0.26},{"s":10,"t":110,"v":0.88},{"s":10,"t":125,"v":2.32},{"s":10,"t":140,"v":4.64},{"s":10,"t":155,"v":7.29},{"s":10,"t":170,"v":10.12},{"s":10,"t":185,"v":13.04},{"s":10,"t":200,"v":15.42},{"s":10,"t":215,"v":16.91},{"s":10,"t":230,"v":17.72},{"s":10,"t":250,"v":18.26},
{"s":11,"t":50,"v":0},{"s":11,"t":80,"v":0.06},{"s":11,"t":95,"v":0.22},{"s":11,"t":110,"v":0.76},{"s":11,"t":125,"v":2.04},{"s":11,"t":140,"v":4.28},{"s":11,"t":155,"v":6.93},{"s":11,"t":170,"v":9.74},{"s":11,"t":185,"v":12.68},{"s":11,"t":200,"v":15.14},{"s":11,"t":215,"v":16.77},{"s":11,"t":230,"v":17.64},{"s":11,"t":250,"v":18.22},
{"s":12,"t":50,"v":0},{"s":12,"t":80,"v":0.04},{"s":12,"t":95,"v":0.19},{"s":12,"t":110,"v":0.65},{"s":12,"t":125,"v":1.8},{"s":12,"t":140,"v":3.94},{"s":12,"t":155,"v":6.57},{"s":12,"t":170,"v":9.36},{"s":12,"t":185,"v":12.3},{"s":12,"t":200,"v":14.85},{"s":12,"t":215,"v":16.61},{"s":12,"t":230,"v":17.55},{"s":12,"t":250,"v":18.18},
{"s":13,"t":50,"v":0},{"s":13,"t":80,"v":0.03},{"s":13,"t":95,"v":0.14},{"s":13,"t":110,"v":0.5},{"s":13,"t":125,"v":1.5},{"s":13,"t":140,"v":3.46},{"s":13,"t":155,"v":6.03},{"s":13,"t":170,"v":8.79},{"s":13,"t":185,"v":11.7},{"s":13,"t":200,"v":14.4},{"s":13,"t":215,"v":16.34},{"s":13,"t":230,"v":17.4},{"s":13,"t":250,"v":18.12},
{"s":14,"t":50,"v":0},{"s":14,"t":80,"v":0.02},{"s":14,"t":95,"v":0.11},{"s":14,"t":110,"v":0.39},{"s":14,"t":125,"v":1.24},{"s":14,"t":140,"v":3.02},{"s":14,"t":155,"v":5.51},{"s":14,"t":170,"v":8.22},{"s":14,"t":185,"v":11.1},{"s":14,"t":200,"v":13.91},{"s":14,"t":215,"v":16.03},{"s":14,"t":230,"v":17.23},{"s":14,"t":250,"v":18.04},
{"s":15,"t":50,"v":0},{"s":15,"t":80,"v":0.01},{"s":15,"t":95,"v":0.07},{"s":15,"t":110,"v":0.28},{"s":15,"t":125,"v":0.94},{"s":15,"t":140,"v":2.46},{"s":15,"t":155,"v":4.82},{"s":15,"t":170,"v":7.47},{"s":15,"t":185,"v":10.31},{"s":15,"t":200,"v":13.22},{"s":15,"t":215,"v":15.56},{"s":15,"t":230,"v":16.98},{"s":15,"t":250,"v":17.92},
{"s":16,"t":50,"v":0},{"s":16,"t":80,"v":0},{"s":16,"t":95,"v":0.05},{"s":16,"t":110,"v":0.2},{"s":16,"t":125,"v":0.7},{"s":16,"t":140,"v":1.9},{"s":16,"t":155,"v":4.1},{"s":16,"t":170,"v":6.75},{"s":16,"t":185,"v":9.55},{"s":16,"t":200,"v":12.5},{"s":16,"t":215,"v":15.0},{"s":16,"t":230,"v":16.7},{"s":16,"t":250,"v":17.8}
]
},
"hconcat":[
{
 "width":155,"height":239,
 "title":{"text":"a"},
 "encoding":{
  "x":{"field":"t","type":"quantitative","scale":{"domain":[50,250],"nice":false},"axis":{"values":[50,100,150,200,250],"title":"Time (ms)","labelOverlap":false}},
  "y":{"field":"v","type":"quantitative","scale":{"domain":[-2,25],"nice":false},"axis":{"values":[0,5,10,15,20,25],"title":"Eye velocity (deg s⁻¹)","titleFontSize":18,"labelOverlap":false}}
 },
 "layer":[
  {"data":{"name":"a"},"transform":[{"filter":"datum.k==='V'"}],"mark":{"type":"line","interpolate":"monotone","color":"#9a9a9a","strokeWidth":1.2},"encoding":{"detail":{"field":"s","type":"nominal"}}},
  {"data":{"name":"a"},"transform":[{"filter":"datum.k==='H'"}],"mark":{"type":"line","interpolate":"monotone","color":"#1a1a1a","strokeWidth":1.2},"encoding":{"detail":{"field":"s","type":"nominal"}}},
  {"data":{"values":[{"label":"Model","t":82,"v":23.5},{"label":"δ","t":82,"v":20.9},{"label":"δ","t":82,"v":18.45}]},
   "mark":{"type":"text","align":"left","baseline":"alphabetic","fontSize":18.5,"font":"Liberation Sans","color":"#1a1a1a"},
   "encoding":{"text":{"field":"label"}}},
  {"data":{"values":[{"label":"θ","t":82,"v":20.9}]},
   "mark":{"type":"text","align":"left","baseline":"alphabetic","fontSize":18.5,"fontStyle":"italic","font":"Liberation Sans","color":"#1a1a1a","dx":10.3},
   "encoding":{"text":{"field":"label"}}},
  {"data":{"values":[{"label":": 2.3°","t":82,"v":20.9}]},
   "mark":{"type":"text","align":"left","baseline":"alphabetic","fontSize":18.5,"font":"Liberation Sans","color":"#1a1a1a","dx":20.6},
   "encoding":{"text":{"field":"label"}}},
  {"data":{"values":[{"label":"v","t":82,"v":18.45}]},
   "mark":{"type":"text","align":"left","baseline":"alphabetic","fontSize":18.5,"fontStyle":"italic","font":"Liberation Sans","color":"#1a1a1a","dx":10.3},
   "encoding":{"text":{"field":"label"}}},
  {"data":{"values":[{"label":": 10%","t":82,"v":18.45}]},
   "mark":{"type":"text","align":"left","baseline":"alphabetic","fontSize":18.5,"font":"Liberation Sans","color":"#1a1a1a","dx":19.6},
   "encoding":{"text":{"field":"label"}}},
  {"data":{"values":[{"label":"H","t":201,"t2":234.5,"v":9.78},{"label":"V","t":201,"t2":234.5,"v":7.41}]},
   "mark":{"type":"rule","strokeWidth":1.3},
   "encoding":{"x2":{"field":"t2"},"color":{"field":"label","type":"nominal","scale":{"domain":["H","V"],"range":["#1a1a1a","#9a9a9a"]},"legend":null}}},
  {"data":{"values":[{"label":"H","t":238.5,"v":9.78},{"label":"V","t":238.5,"v":7.41}]},
   "mark":{"type":"text","align":"left","baseline":"middle","fontSize":18,"font":"Liberation Sans","color":"#1a1a1a"},
   "encoding":{"text":{"field":"label"}}}
 ]
},
{
 "width":155,"height":239,
 "title":{"text":"b"},
 "encoding":{
  "x":{"field":"t","type":"quantitative","scale":{"domain":[50,250],"nice":false},"axis":{"values":[50,100,150,200,250],"title":"Time (ms)","labelOverlap":false}},
  "y":{"field":"v","type":"quantitative","scale":{"domain":[-2,25],"nice":false},"axis":{"values":[0,5,10,15,20,25],"labels":false,"title":null}}
 },
 "layer":[
  {"data":{"name":"b"},"transform":[{"filter":"datum.k==='H'"}],"mark":{"type":"line","color":"#1a1a1a","strokeWidth":1.1},"encoding":{"detail":{"field":"s","type":"nominal"}}},
  {"data":{"name":"b"},"transform":[{"filter":"datum.k==='V'"}],"mark":{"type":"line","color":"#9a9a9a","strokeWidth":1.1},"encoding":{"detail":{"field":"s","type":"nominal"}}},
  {"data":{"values":[{"label":"Pursuit data","t":77,"v":23.5}]},
   "mark":{"type":"text","align":"left","baseline":"alphabetic","fontSize":18.5,"font":"Liberation Sans","color":"#1a1a1a"},
   "encoding":{"text":{"field":"label"}}}
 ]
},
{
 "width":155,"height":239,
 "title":{"text":"c"},
 "encoding":{
  "x":{"field":"t","type":"quantitative","scale":{"domain":[50,250],"nice":false},"axis":{"values":[50,100,150,200,250],"title":"Time (ms)","labelOverlap":false}},
  "y":{"field":"v","type":"quantitative","scale":{"domain":[-2,25],"nice":false},"axis":{"values":[0,5,10,15,20,25],"labels":false,"title":null}}
 },
 "layer":[
  {"data":{"name":"c"},"mark":{"type":"line","interpolate":"monotone","color":"#1a1a1a","strokeWidth":1.2},"encoding":{"detail":{"field":"s","type":"nominal"}}},
  {"data":{"values":[{"label":"Model","t":80,"v":23.5},{"label":"δ","t":80,"v":21.1}]},
   "mark":{"type":"text","align":"left","baseline":"alphabetic","fontSize":18.5,"font":"Liberation Sans","color":"#1a1a1a"},
   "encoding":{"text":{"field":"label"}}},
  {"data":{"values":[{"label":"t","t":80,"v":21.1}]},
   "mark":{"type":"text","align":"left","baseline":"alphabetic","fontSize":18.5,"fontStyle":"italic","font":"Liberation Sans","color":"#1a1a1a","dx":10.3},
   "encoding":{"text":{"field":"label"}}},
  {"data":{"values":[{"label":": 15 ms","t":80,"v":21.1}]},
   "mark":{"type":"text","align":"left","baseline":"alphabetic","fontSize":18.5,"font":"Liberation Sans","color":"#1a1a1a","dx":15.4},
   "encoding":{"text":{"field":"label"}}}
 ]
}
]
}
